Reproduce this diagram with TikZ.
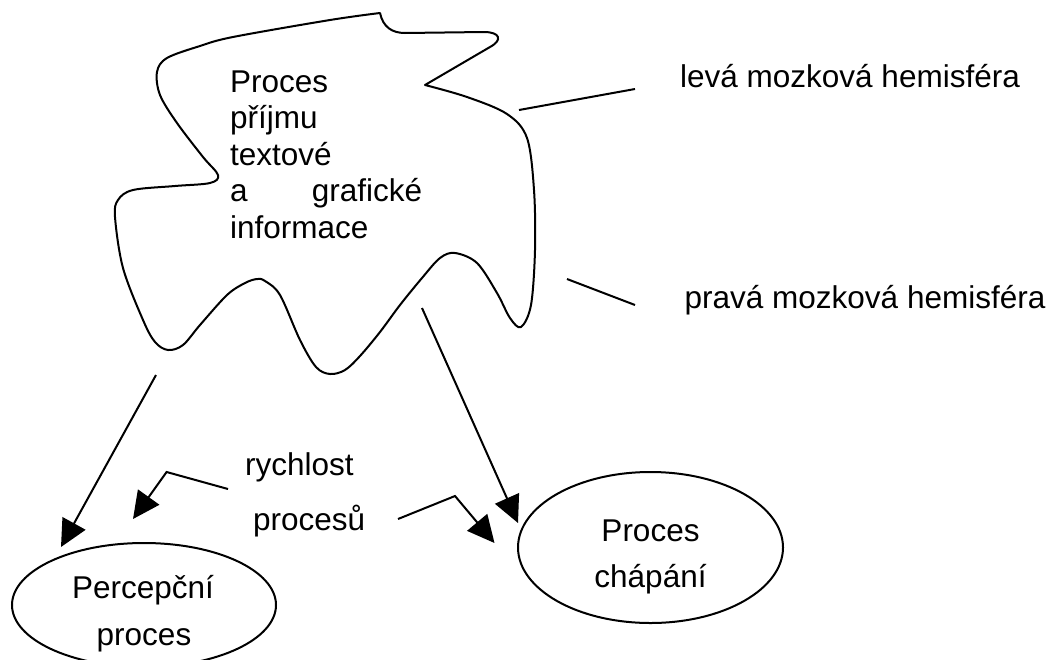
\documentclass[tikz,border=0pt]{standalone}
\usepackage{fontspec}
\setmainfont{Liberation Sans}
\usetikzlibrary{arrows.meta,shapes.geometric}
\begin{document}
\begin{tikzpicture}[x=1pt,y=-1pt,
  txt/.style={font=\fontsize{31.5}{36}\selectfont, inner sep=0pt, anchor=base west},
  ctxt/.style={font=\fontsize{31.5}{36}\selectfont, inner sep=0pt, anchor=base},
  ln/.style={line width=2pt},
  arr/.style={line width=2pt, -{Triangle[length=27pt,width=26pt]}},
  oval/.style={draw, ellipse, line width=2pt, inner sep=0pt}]
\useasboundingbox (0,0) rectangle (1051,659);

% cloud
\draw[ln, line join=round] (380,13) .. controls (383,27) and (392,33) .. (405,33)
  -- (484,32) .. controls (500,32) and (503,40) .. (490,47)
  -- (425,85)
  -- plot[smooth, tension=0.55] coordinates {(425,85) (467,97) (507,114) (527,138) (534,190) (535,250) (531,305) (521,327) (510,318) (497,293) (477,263) (455,253) (440,258) (422,278) (400,305) (380,332) (360,356) (345,370) (330,374) (316,367) (300,340) (280,295) (265,281) (257,279) (245,283) (227,295) (200,325) (183,345) (168,350) (155,342) (143,320) (123,268) (115,217) (118,200) (133,190) (175,186) (210,183) (218,175) (203,157) (177,123) (160,95) (157,72) (167,58) (200,46) (233,37) (330,20) (380,13)}
  -- cycle;

% cloud text
\node[txt] (ct1) at (230,92) {Proces};
\node[txt] (ct2) at (230,128.3) {příjmu};
\node[txt] (ct3) at (230,165.7) {textové};
\node[txt] (ct4) at (230,201.7) {\makebox[192pt][l]{a\hfill grafické}};
\node[txt] (ct5) at (230,238.3) {informace};

% hemisphere labels
\node[txt] (lev) at (680,87) {levá mozková hemisféra};
\node[txt] (prav) at (684.5,308) {pravá mozková hemisféra};
\coordinate (l1) at (519,110);
\coordinate (l2) at (635,89);
\coordinate (p1) at (567,279);
\coordinate (p2) at (635,305);
\draw[ln] (l1) -- (l2);
\draw[ln] (p1) -- (p2);

% ellipses
\node[oval, minimum width=264pt, minimum height=124pt] (perc) at (144,605) {};
\node[ctxt] (perc1) at (143,598) {Percepční};
\node[ctxt] (perc2) at (144,645) {proces};
\node[oval, minimum width=265pt, minimum height=151pt] (chap) at (650.5,547.5) {};
\node[ctxt] (chap1) at (650.5,541) {Proces};
\node[ctxt] (chap2) at (650.5,587) {chápání};

% speed labels
\node[txt] (rych) at (245,475) {rychlost};
\node[txt] (proc) at (253,530) {procesů};

% arrows
\coordinate (a1) at (156,375);
\coordinate (a2) at (61,547);
\coordinate (b1) at (422,308);
\coordinate (b2) at (518,523);
\coordinate (c1) at (228,489);
\coordinate (c2) at (166.6,472);
\coordinate (c3) at (133,519);
\coordinate (d1) at (398,519);
\coordinate (d2) at (455,496);
\coordinate (d3) at (494.5,543);
\draw[arr] (a1) -- (a2);
\draw[arr] (b1) -- (b2);
\draw[arr, line join=miter] (c1) -- (c2) -- (c3);
\draw[arr, line join=miter] (d1) -- (d2) -- (d3);
\end{tikzpicture}
\end{document}
